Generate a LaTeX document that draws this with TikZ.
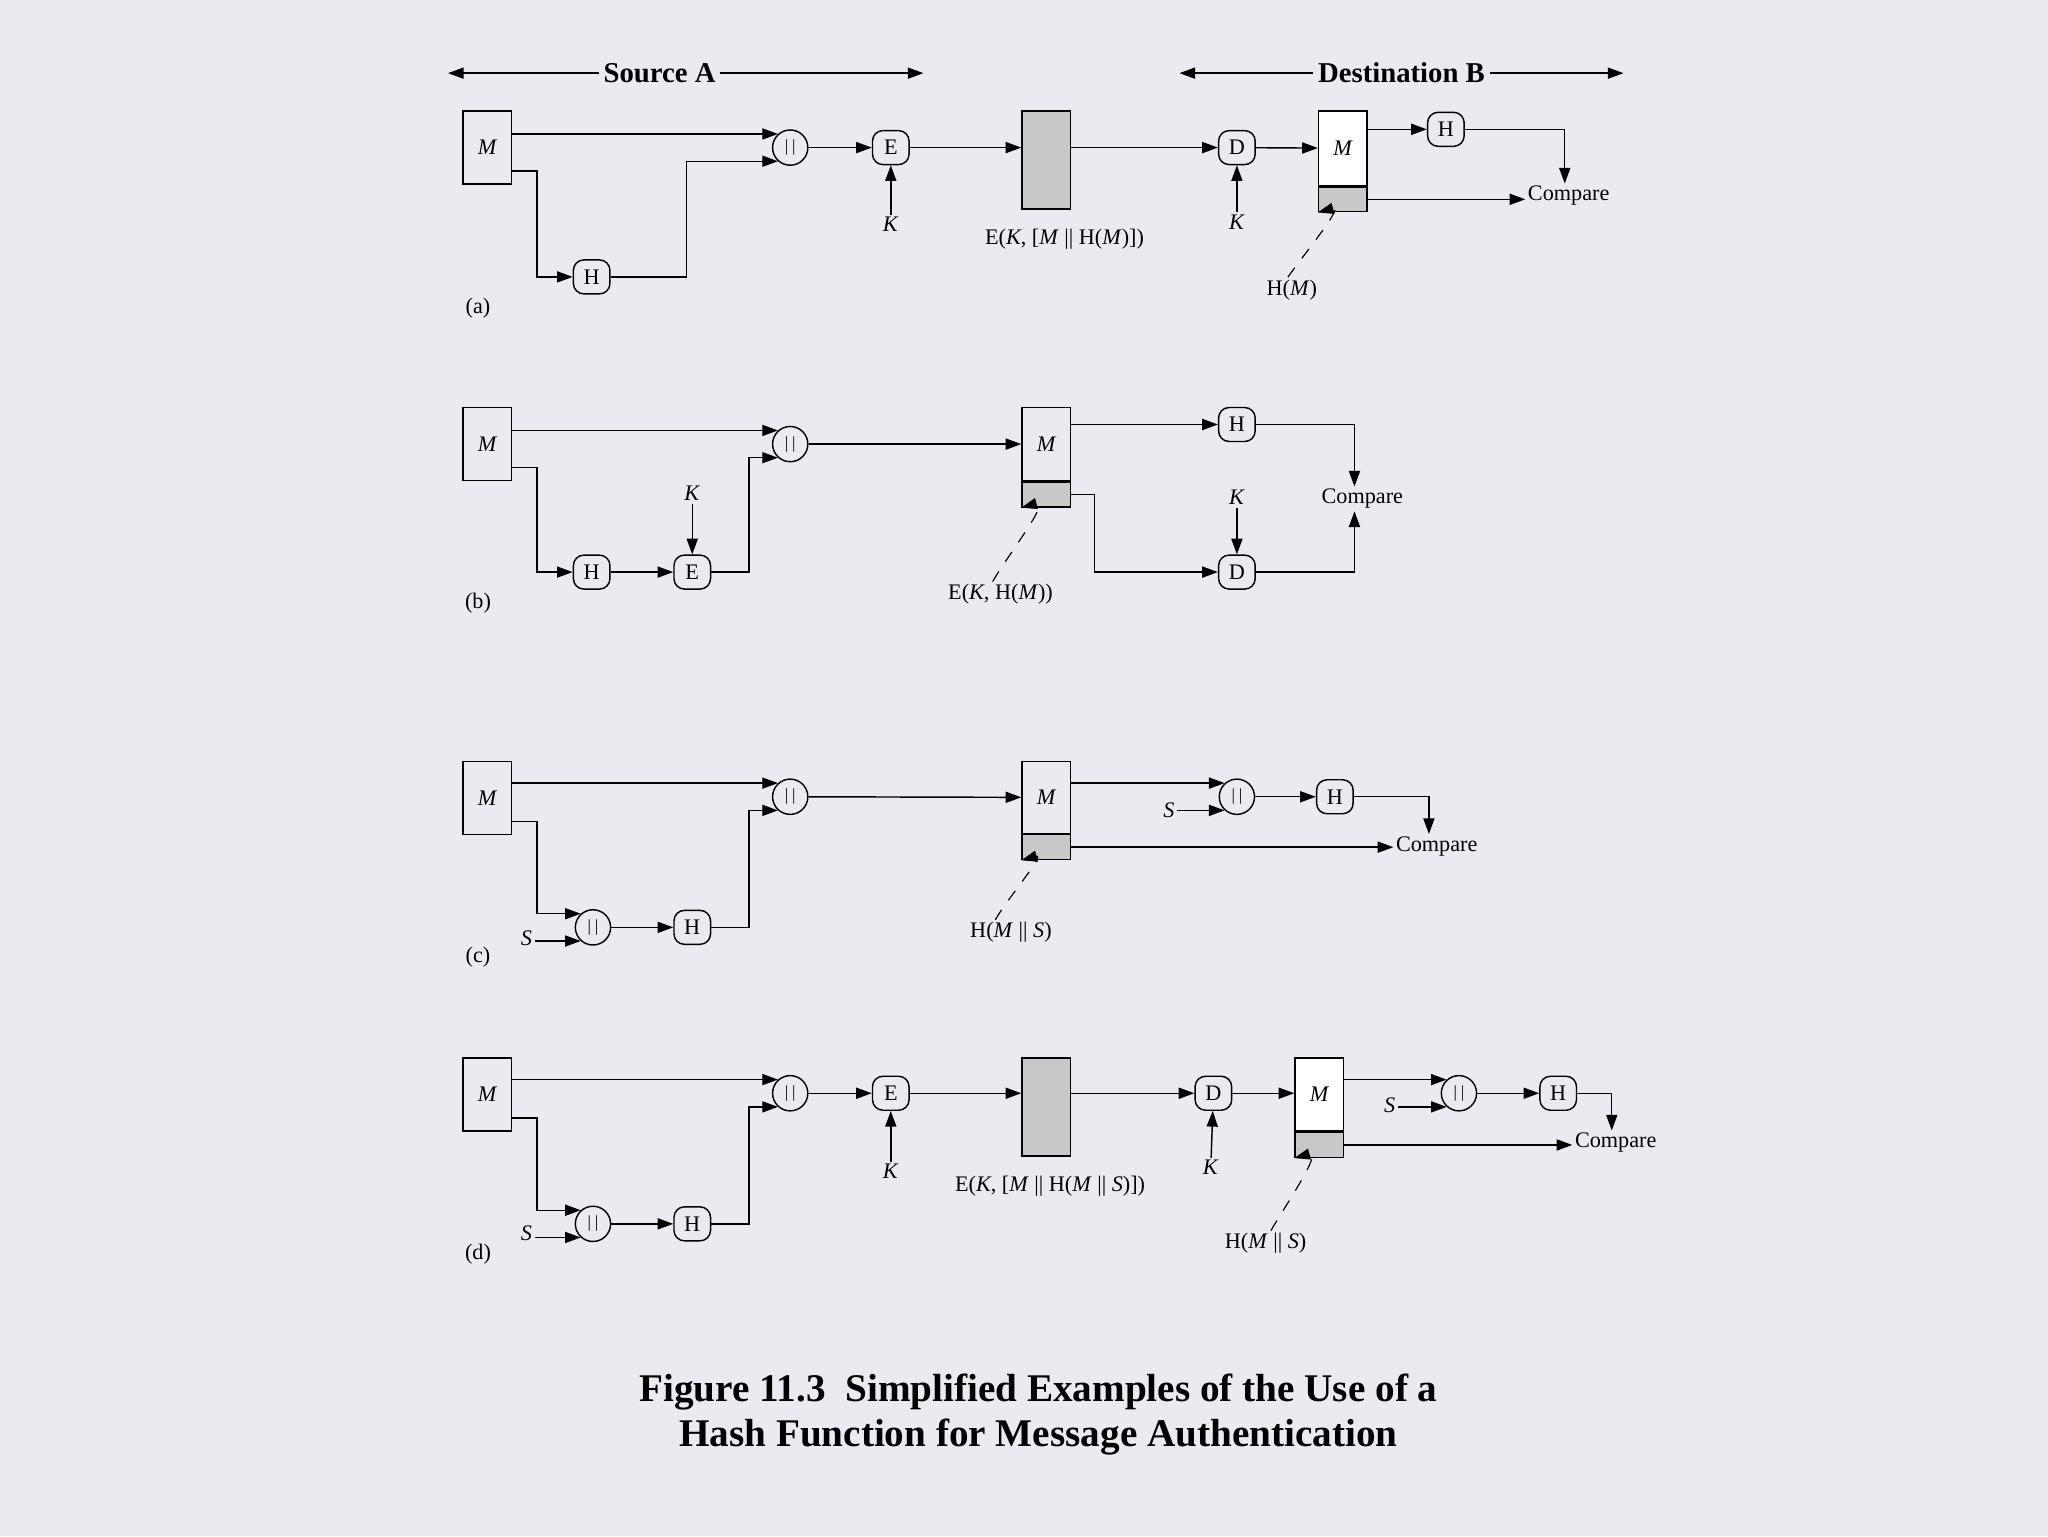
\documentclass[tikz,border=0pt]{standalone}
\usepackage{fontspec}
\setmainfont{Liberation Serif}
\usetikzlibrary{arrows.meta}
\definecolor{paper}{RGB}{236,234,240}
\definecolor{tagfill}{RGB}{200,200,200}

\begin{document}
\begin{tikzpicture}[x=1pt, y=-1pt, >={Triangle[length=12pt,width=8.5pt]},
    line width=1.1pt,
    every node/.style={inner sep=1.5pt},
    lbl/.style={font=\fontsize{17}{19}\selectfont},
    hdr/.style={font=\bfseries\fontsize{22}{24}\selectfont, inner sep=3pt},
    msg/.style={draw, minimum width=37pt, minimum height=56pt, inner sep=0pt,
        font=\itshape\fontsize{17}{19}\selectfont},
    tag/.style={draw, fill=tagfill, minimum width=37pt, minimum height=19pt, inner sep=0pt},
    cipher/.style={draw, fill=tagfill, minimum width=37pt, minimum height=75pt, inner sep=0pt},
    fn/.style={draw, rounded corners=8pt, minimum width=28pt, minimum height=26pt,
        inner sep=0pt, font=\fontsize{17}{19}\selectfont},
    cat/.style={draw, circle, minimum size=27pt, inner sep=0pt,
        font=\fontsize{13}{15}\selectfont},
    lead/.style={->, dash pattern=on 9pt off 9pt, line width=0.9pt}]

    % 1. Background and frame
    \fill[paper] (0,0) rectangle (1568,1176);
    \useasboundingbox (0,0) rectangle (1568,1176);

    % 2. Headers
    \node[hdr] (srcA) at (505,56) {Source A};
    \coordinate (srcL) at (343,56);
    \coordinate (srcR) at (707,56);
    \draw[->] (srcA) -- (srcL);
    \draw[->] (srcA) -- (srcR);
    \node[hdr] (dstB) at (1073,56) {Destination B};
    \coordinate (dstL) at (903,56);
    \coordinate (dstR) at (1243,56);
    \draw[->] (dstB) -- (dstL);
    \draw[->] (dstB) -- (dstR);

    % 3. Panel (a)
    \node[msg] (mA) at (373,113) {M};
    \node[cat] (catA) at (605,113) {|\kern3pt|};
    \node[fn] (hA) at (453,212) {H};
    \node[fn] (eA) at (682,113) {E};
    \node[lbl] (kA) at (682,172) {\textit{K}};
    \node[cipher] (boxA) at (801,122.5) {};
    \node[lbl] (ekA) at (815,183) {E(\textit{K}, [\textit{M} || H(\textit{M})])};
    \node[fn] (dA) at (947,113) {D};
    \node[lbl] (kA2) at (947,170) {\textit{K}};
    \node[msg, fill=white, minimum height=57pt] (mA2) at (1028,113.5) {M};
    \node[tag, anchor=north] (tA) at (mA2.south) {};
    \node[fn] (hA2) at (1107,99) {H};
    \node[lbl] (cmpA) at (1201,150) {Compare};
    \node[lbl] (hmA) at (989,222) {H(\textit{M})};
    \node[lbl] (labA) at (366,236) {(a)};

    \draw[->] (mA.east |- catA.132) -- (catA.132);
    \draw[->] ([yshift=-18pt]mA.east) -- ++(19,0) |- (hA.west);
    \draw[->] (hA.east) -- ++(58,0) |- (catA.228);
    \draw[->] (catA) -- (eA);
    \draw[->] (kA) -- (eA);
    \draw[->] (eA) -- (boxA.west |- eA);
    \draw[->] (boxA.east |- dA) -- (dA);
    \draw[->] (kA2) -- (dA);
    \draw[->] (dA) -- (mA2);
    \draw[->] (mA2.east |- hA2) -- (hA2);
    \draw[->] (hA2.east) -| ([xshift=-3pt]cmpA.north);
    \draw[->] (tA.east) -- (tA.east -| cmpA.west);
    \draw[lead] ([xshift=-3pt]hmA.north) to[out=55, in=15] (tA.south west);

    % 4. Panel (b)
    \node[msg] (mB) at (373,340) {M};
    \node[cat] (catB) at (605,340) {|\kern3pt|};
    \node[fn] (hB) at (453,438) {H};
    \node[fn] (eB) at (530,438) {E};
    \node[lbl] (kB) at (530,378) {\textit{K}};
    \node[msg] (mB2) at (801,340) {M};
    \node[tag, anchor=north] (tB) at (mB2.south) {};
    \node[fn] (hB2) at (947,325) {H};
    \node[fn] (dB) at (947,438) {D};
    \node[lbl] (kB2) at (947,381) {\textit{K}};
    \node[lbl] (cmpB) at (1043,382) {Compare};
    \node[lbl] (ekB) at (766,455) {E(\textit{K}, H(\textit{M}))};
    \node[lbl] (labB) at (366,462) {(b)};

    \draw[->] (mB.east |- catB.132) -- (catB.132);
    \draw[->] ([yshift=-18pt]mB.east) -- ++(19,0) |- (hB.west);
    \draw[->] (hB) -- (eB);
    \draw[->] (kB) -- (eB);
    \draw[->] (eB.east) -- ++(29,0) |- (catB.228);
    \draw[->] (catB) -- (mB2);
    \draw[->] (mB2.east |- hB2) -- (hB2);
    \draw[->] (hB2.east) -| ([xshift=-6pt]cmpB.north);
    \draw[->] (tB.east) -- ++(18,0) |- (dB.west);
    \draw[->] (kB2) -- (dB);
    \draw[->] (dB.east) -| ([xshift=-6pt]cmpB.south);
    \draw[lead] ([xshift=-6pt]ekB.north) to[out=60, in=15] (tB.south west);

    % 5. Panel (c)
    \node[msg] (mC) at (373,611) {M};
    \node[cat] (catC) at (605,610) {|\kern3pt|};
    \node[cat] (catC1) at (454,710) {|\kern3pt|};
    \node[lbl] (sC) at (403,718) {\textit{S}};
    \node[fn] (hC) at (530,710) {H};
    \node[msg, minimum height=55pt] (mC2) at (801,610.5) {M};
    \node[tag, anchor=north] (tC) at (mC2.south) {};
    \node[cat] (catC2) at (947,610) {|\kern3pt|};
    \node[lbl] (sC2) at (895,620) {\textit{S}};
    \node[fn] (hC2) at (1022,610) {H};
    \node[lbl] (cmpC) at (1100,648) {Compare};
    \node[lbl] (hsC) at (774,714) {H(\textit{M} || \textit{S})};
    \node[lbl] (labC) at (366,733) {(c)};

    \draw[->] (mC.east |- catC.132) -- (catC.132);
    \draw[->] ([yshift=-18pt]mC.east) -- ++(19,0) |- (catC1.132);
    \draw[->] (sC.east |- catC1.228) -- (catC1.228);
    \draw[->] (catC1) -- (hC);
    \draw[->] (hC.east) -- ++(29,0) |- (catC.228);
    \draw[->] (catC) -- (mC2);
    \draw[->] (mC2.east |- catC2.132) -- (catC2.132);
    \draw[->] (sC2.east |- catC2.228) -- (catC2.228);
    \draw[->] (catC2) -- (hC2);
    \draw[->] (hC2.east) -| ([xshift=-6pt]cmpC.north);
    \draw[->] (tC.east) -- (tC.east -| cmpC.west);
    \draw[lead] ([xshift=-12pt]hsC.north) to[out=60, in=15] (tC.south west);

    % 6. Panel (d)
    \node[msg] (mD) at (373,838) {M};
    \node[cat] (catD) at (605,837) {|\kern3pt|};
    \node[cat] (catD1) at (454,937) {|\kern3pt|};
    \node[lbl] (sD) at (403,944) {\textit{S}};
    \node[fn] (hD) at (530,937) {H};
    \node[fn] (eD) at (682,837) {E};
    \node[lbl] (kD) at (682,897) {\textit{K}};
    \node[cipher] (boxD) at (801,847.5) {};
    \node[lbl] (ekD) at (804,908) {E(\textit{K}, [\textit{M} || H(\textit{M} || \textit{S})])};
    \node[fn] (dD) at (929,837) {D};
    \node[lbl] (kD2) at (927,894) {\textit{K}};
    \node[msg, fill=white] (mD2) at (1010,838) {M};
    \node[tag, anchor=north] (tD) at (mD2.south) {};
    \node[cat] (catD2) at (1117,837) {|\kern3pt|};
    \node[lbl] (sD2) at (1064,846) {\textit{S}};
    \node[fn] (hD2) at (1193,837) {H};
    \node[lbl] (cmpD) at (1237,875) {Compare};
    \node[lbl] (hsD) at (969,952) {H(\textit{M} || \textit{S})};
    \node[lbl] (labD) at (366,960) {(d)};

    \draw[->] (mD.east |- catD.132) -- (catD.132);
    \draw[->] ([yshift=-18pt]mD.east) -- ++(19,0) |- (catD1.132);
    \draw[->] (sD.east |- catD1.228) -- (catD1.228);
    \draw[->] (catD1) -- (hD);
    \draw[->] (hD.east) -- ++(29,0) |- (catD.228);
    \draw[->] (catD) -- (eD);
    \draw[->] (kD) -- (eD);
    \draw[->] (eD) -- (boxD.west |- eD);
    \draw[->] (boxD.east |- dD) -- (dD);
    \draw[->] (kD2) -- (dD);
    \draw[->] (dD) -- (mD2.west |- dD);
    \draw[->] (mD2.east |- catD2.132) -- (catD2.132);
    \draw[->] (sD2.east |- catD2.228) -- (catD2.228);
    \draw[->] (catD2) -- (hD2);
    \draw[->] (hD2.east) -| ([xshift=-3pt]cmpD.north);
    \draw[->] (tD.east) -- (tD.east -| cmpD.west);
    \draw[lead] ([xshift=4pt]hsD.north) to[out=60, in=15] (tD.south west);

    % 7. Caption
    \node[font=\bfseries\fontsize{30}{34}\selectfont, align=center] (cap) at (795,1083)
        {Figure 11.3\enspace Simplified Examples of the Use of a\\
         Hash Function for Message Authentication};
\end{tikzpicture}
\end{document}
